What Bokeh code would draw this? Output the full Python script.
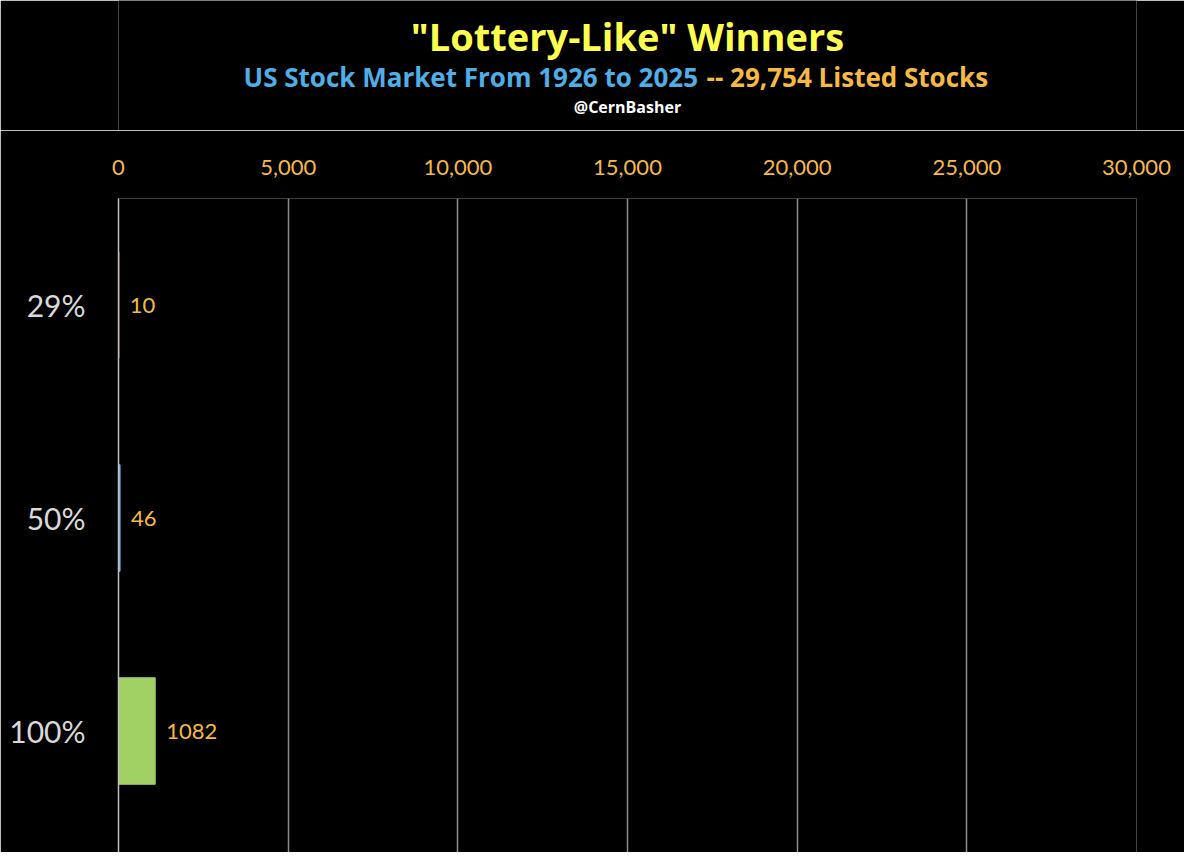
from bokeh.plotting import figure
from bokeh.layouts import column
from bokeh.models import Range1d, FixedTicker, NumeralTickFormatter, ColumnDataSource
from bokeh.core.properties import value
from bokeh.embed import file_html
from bokeh.resources import INLINE

# ---- data ----
categories = ["29%", "50%", "100%"]
counts = [10, 46, 1082]
bar_colors = ["#F4B183", "#6CB8E6", "#A1D064"]
x_ticks = [0, 5000, 10000, 15000, 20000, 25000, 30000]
title_text = '"Lottery-Like" Winners'
subtitle_blue = "US Stock Market From 1926 to 2025"
subtitle_orange = "-- 29,754 Listed Stocks"
handle_text = "@CernBasher"

FONT = "Lato"
TFONT = "Open Sans"
ORANGE = "#F6BA43"
BLUE = "#4FAEE6"
YELLOW = "#FFFF4D"

W = 1184
HH = 130          # header height
H = 852 - HH      # main figure height
TOP = 68          # space above frame in main figure
BAND = 213        # pixel height of one category band

# ---- header figure ----
h = figure(width=W, height=HH, output_backend="svg", toolbar_location=None,
           x_range=Range1d(0, W), y_range=Range1d(0, HH),
           min_border_left=0, min_border_right=0, min_border_top=0, min_border_bottom=0)
h.background_fill_color = "black"
h.border_fill_color = "black"
h.outline_line_color = None
h.axis.visible = False
h.grid.grid_line_color = None

def hy(y_from_top):
    return HH - y_from_top

h.text(x=[592], y=[hy(35)], text=[title_text], text_align="center", text_baseline="middle",
       text_color=YELLOW, text_font=value(TFONT), text_font_size="38px", text_font_style="bold")
h.text(x=[674], y=[hy(76)], text=[subtitle_blue], text_align="right", text_baseline="middle",
       text_color=BLUE, text_font=value(TFONT), text_font_size="26px", text_font_style="bold")
h.text(x=[684], y=[hy(76)], text=[subtitle_orange], text_align="left", text_baseline="middle",
       text_color=ORANGE, text_font=value(TFONT), text_font_size="26px", text_font_style="bold")
h.text(x=[592], y=[hy(106)], text=[handle_text], text_align="center", text_baseline="middle",
       text_color="white", text_font=value(TFONT), text_font_size="16px", text_font_style="bold")

# ---- main figure ----
n = len(categories)
ypos = [n - i - 0.5 for i in range(n)]  # top to bottom
src = ColumnDataSource(dict(y=ypos, right=counts, color=bar_colors,
                            label=[str(c) for c in counts]))

frame_h = H - TOP
p = figure(width=W, height=H, output_backend="svg", toolbar_location=None,
           x_range=Range1d(0, 30000), y_range=Range1d(n - frame_h / BAND, n),
           x_axis_location="above",
           min_border_left=118, min_border_right=48, min_border_top=TOP, min_border_bottom=0)
p.background_fill_color = "black"
p.border_fill_color = "black"
p.outline_line_color = None

p.hbar(y="y", right="right", left=0, height=0.5, color="color", source=src)
p.text(x="right", y="y", text="label", source=src, x_offset=11,
       text_align="left", text_baseline="middle", text_color=ORANGE,
       text_font=value(FONT), text_font_size="22px")

xa = p.xaxis[0]
xa.ticker = FixedTicker(ticks=x_ticks)
xa.formatter = NumeralTickFormatter(format="0,0")
xa.major_label_text_color = ORANGE
xa.major_label_text_font = FONT
xa.major_label_text_font_size = "22px"
xa.major_label_standoff = 24
xa.major_tick_line_color = None
xa.major_tick_in = 0
xa.major_tick_out = 0
xa.minor_tick_line_color = None
xa.axis_line_color = None

ya = p.yaxis[0]
ya.ticker = FixedTicker(ticks=ypos)
ya.major_label_overrides = {y: c for y, c in zip(ypos, categories)}
ya.major_label_text_color = "#D9D9D9"
ya.major_label_text_font = FONT
ya.major_label_text_font_size = "30px"
ya.major_label_standoff = 33
ya.major_tick_line_color = None
ya.major_tick_in = 0
ya.major_tick_out = 0
ya.minor_tick_line_color = None
ya.axis_line_color = "#BFBFBF"
ya.axis_line_width = 1.5

p.xgrid.grid_line_color = "#8C8C8C"
p.xgrid.grid_line_width = 1.5
p.xgrid.ticker = FixedTicker(ticks=x_ticks)
p.ygrid.grid_line_color = None

layout = column(h, p, spacing=0)
open("out.html", "w").write(file_html(layout, INLINE))
